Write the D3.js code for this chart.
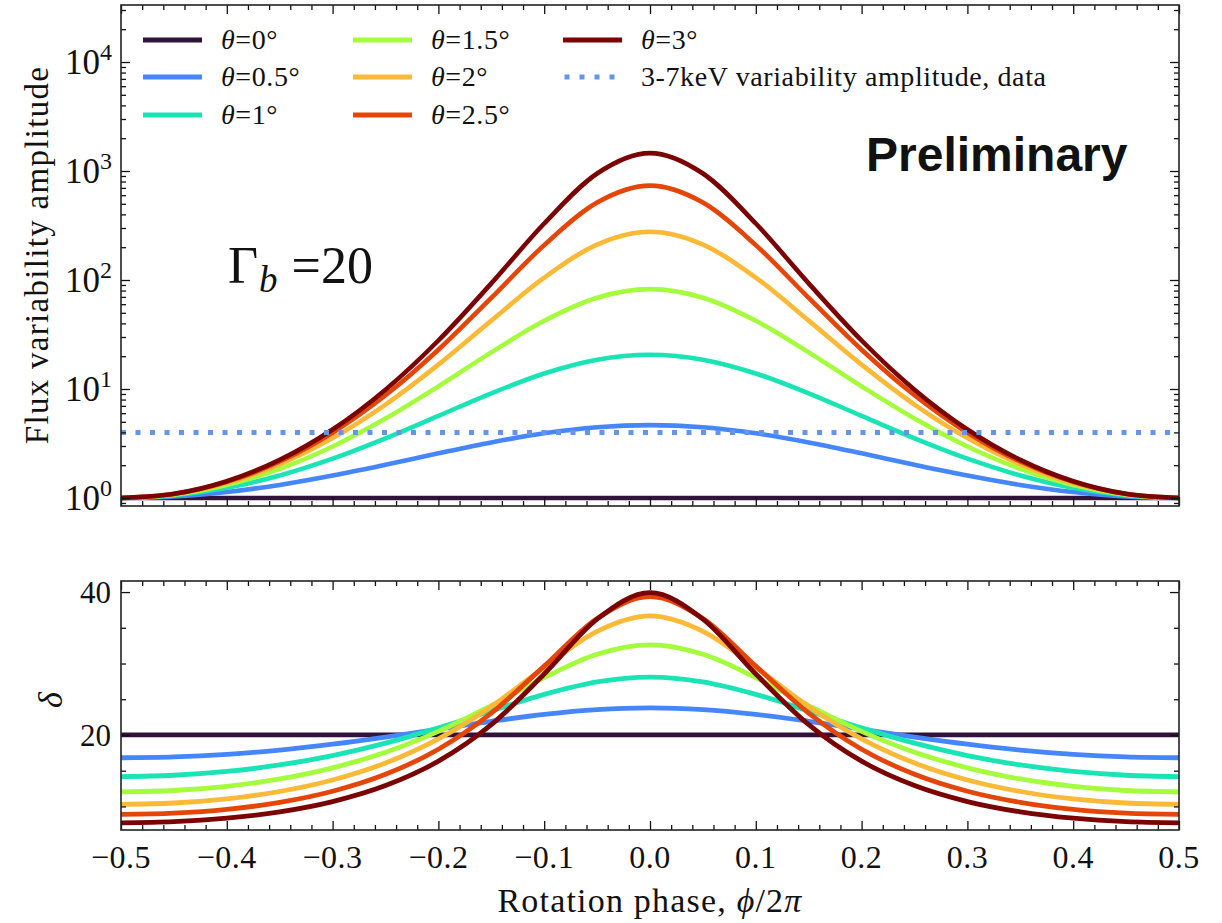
<!DOCTYPE html>
<html>
<head>
<meta charset="utf-8">
<script src="https://cdn.jsdelivr.net/npm/d3@7"></script>
<style>
  body { margin: 0; background: #fff; }
  svg text { font-family: "Liberation Serif", "Tinos", "Times New Roman", "DejaVu Serif", serif; fill: #111; }
</style>
</head>
<body>
<script>
// rotation phase grid (phi / 2pi)
var phase = [-0.5, -0.45, -0.4, -0.35, -0.3, -0.25, -0.2, -0.15, -0.1, -0.05, 0,
             0.05, 0.1, 0.15, 0.2, 0.25, 0.3, 0.35, 0.4, 0.45, 0.5];

var thetaLabels = ["0", "0.5", "1", "1.5", "2", "2.5", "3"];
var colors = ["#30123b", "#4686fb", "#1ae4b6", "#a4fc3c", "#fbb938", "#e4460a", "#7a0403"];

// flux variability amplitude (top panel)
var flux0  = [1, 1, 1, 1, 1, 1, 1, 1, 1, 1, 1, 1, 1, 1, 1, 1, 1, 1, 1, 1, 1];
var flux05 = [1, 1.032, 1.134, 1.318, 1.606, 2.019, 2.572, 3.237, 3.920, 4.453, 4.658,
              4.453, 3.920, 3.237, 2.572, 2.019, 1.606, 1.318, 1.134, 1.032, 1];
var flux1  = [1, 1.055, 1.239, 1.611, 2.296, 3.525, 5.668, 9.133, 13.89, 18.59, 20.65,
              18.59, 13.89, 9.133, 5.668, 3.525, 2.296, 1.611, 1.239, 1.055, 1];
var flux15 = [1, 1.071, 1.317, 1.853, 2.970, 5.356, 10.57, 21.68, 42.22, 68.76, 82.40,
              68.76, 42.22, 21.68, 10.57, 5.356, 2.970, 1.853, 1.317, 1.071, 1];
var flux2  = [1, 1.082, 1.370, 2.035, 3.543, 7.196, 16.74, 42.40, 105.2, 211.6, 276.9,
              211.6, 105.2, 42.40, 16.74, 7.196, 3.543, 2.035, 1.370, 1.082, 1];
var flux25 = [1, 1.089, 1.406, 2.161, 3.974, 8.761, 22.93, 68.54, 208.9, 513.4, 734.0,
              513.4, 208.9, 68.54, 22.93, 8.761, 3.974, 2.161, 1.406, 1.089, 1];
var flux3  = [1, 1.092, 1.426, 2.238, 4.252, 9.859, 27.86, 93.07, 329.7, 948.1, 1460,
              948.1, 329.7, 93.07, 27.86, 9.859, 4.252, 2.238, 1.426, 1.092, 1];

// Doppler factor delta (bottom panel)
var delta0  = [20, 20, 20, 20, 20, 20, 20, 20, 20, 20, 20, 20, 20, 20, 20, 20, 20, 20, 20, 20, 20];
var delta05 = [16.81, 16.93, 17.29, 17.89, 18.71, 19.70, 20.81, 21.91, 22.88, 23.55, 23.79,
               23.55, 22.88, 21.91, 20.81, 19.70, 18.71, 17.89, 17.29, 16.93, 16.81];
var delta1  = [14.18, 14.36, 14.89, 15.80, 17.11, 18.85, 20.99, 23.37, 25.69, 27.44, 28.10,
               27.44, 25.69, 23.37, 20.99, 18.85, 17.11, 15.80, 14.89, 14.36, 14.18];
var delta15 = [12.04, 12.23, 12.82, 13.84, 15.40, 17.59, 20.51, 24.12, 28.03, 31.29, 32.60,
               31.29, 28.03, 24.12, 20.51, 17.59, 15.40, 13.84, 12.82, 12.23, 12.04];
var delta2  = [10.30, 10.48, 11.06, 12.09, 13.70, 16.08, 19.46, 24.00, 29.46, 34.50, 36.66,
               34.50, 29.46, 24.00, 19.46, 16.08, 13.70, 12.09, 11.06, 10.48, 10.30];
var delta25 = [8.88, 9.05, 9.58, 10.56, 12.12, 14.49, 18.00, 23.05, 29.64, 36.31, 39.36,
               36.31, 29.64, 23.05, 18.00, 14.49, 12.12, 10.56, 9.58, 9.05, 8.88];
var delta3  = [7.71, 7.86, 8.35, 9.24, 10.68, 12.92, 16.33, 21.44, 28.53, 36.21, 39.91,
               36.21, 28.53, 21.44, 16.33, 12.92, 10.68, 9.24, 8.35, 7.86, 7.71];

var dataAmplitude = 4;   // 3-7 keV variability amplitude, data

var xTicks = [-0.5, -0.4, -0.3, -0.2, -0.1, 0, 0.1, 0.2, 0.3, 0.4, 0.5];
var fluxTicks = [1, 10, 100, 1000, 10000];
var deltaTicks = [20, 40];

var fluxSeries = [flux0, flux05, flux1, flux15, flux2, flux25, flux3];
var deltaSeries = [delta0, delta05, delta1, delta15, delta2, delta25, delta3];

var W = 1222, H = 923;
var L = 121, R = 1179;
var topT = 5, topB = 506, botT = 581, botB = 830;

var svg = d3.select("body").append("svg").attr("width", W).attr("height", H);

var x = d3.scaleLinear().domain([-0.5, 0.5]).range([L, R]);
var yTop = d3.scaleLog().domain([Math.pow(10, -0.0734), Math.pow(10, 4.523)]).range([topB, topT]);
var yBot = d3.scaleLinear().domain([6.7, 41.55]).range([botB, botT]);

// minor tick values
var xMinor = d3.range(-50, 51, 2).map(function (d) { return d / 100; })
  .filter(function (d) { return xTicks.indexOf(d) < 0; });
var fluxMinor = [];
[0.1, 1, 10, 100, 1000, 10000].forEach(function (dec) {
  for (var k = 2; k <= 9; k++) {
    var v = k * dec;
    if (v >= yTop.domain()[0] && v <= yTop.domain()[1]) fluxMinor.push(v);
  }
});
var deltaMinor = [10, 15, 25, 30, 35];

// clip paths
var defs = svg.append("defs");
defs.append("clipPath").attr("id", "clipTop").append("rect")
  .attr("x", L).attr("y", topT).attr("width", R - L).attr("height", topB - topT);
defs.append("clipPath").attr("id", "clipBot").append("rect")
  .attr("x", L).attr("y", botT).attr("width", R - L).attr("height", botB - botT);

// curves
var lineTop = d3.line()
  .x(function (d, i) { return x(phase[i]); })
  .y(function (d) { return yTop(d); })
  .curve(d3.curveCatmullRom.alpha(0));
var lineBot = d3.line()
  .x(function (d, i) { return x(phase[i]); })
  .y(function (d) { return yBot(d); })
  .curve(d3.curveCatmullRom.alpha(0));

var gTop = svg.append("g").attr("clip-path", "url(#clipTop)");
gTop.selectAll("path.curve").data(fluxSeries).enter().append("path")
  .attr("class", "curve")
  .attr("d", lineTop)
  .attr("fill", "none")
  .attr("stroke", function (d, i) { return colors[i]; })
  .attr("stroke-width", 4.6);

gTop.append("line")
  .attr("x1", L).attr("x2", R)
  .attr("y1", yTop(dataAmplitude)).attr("y2", yTop(dataAmplitude))
  .attr("stroke", "#6495ed")
  .attr("stroke-width", 5)
  .attr("stroke-dasharray", "5 9.5");

var gBot = svg.append("g").attr("clip-path", "url(#clipBot)");
gBot.selectAll("path.curve").data(deltaSeries).enter().append("path")
  .attr("class", "curve")
  .attr("d", lineBot)
  .attr("fill", "none")
  .attr("stroke", function (d, i) { return colors[i]; })
  .attr("stroke-width", 4.8);

// ticks (inward, on all four sides)
function ticks(axis, tx, ty, size) {
  var g = svg.append("g").attr("transform", "translate(" + tx + "," + ty + ")")
    .call(axis.tickSize(-size).tickFormat(""));
  g.select(".domain").remove();
  g.selectAll(".tick line").attr("stroke", "#111").attr("stroke-width", 1.3);
  return g;
}
[[topT, topB, yTop, fluxTicks, fluxMinor], [botT, botB, yBot, deltaTicks, deltaMinor]].forEach(function (p) {
  ticks(d3.axisBottom(x).tickValues(xTicks), 0, p[1], 9);
  ticks(d3.axisBottom(x).tickValues(xMinor), 0, p[1], 5);
  ticks(d3.axisTop(x).tickValues(xTicks), 0, p[0], 9);
  ticks(d3.axisTop(x).tickValues(xMinor), 0, p[0], 5);
  ticks(d3.axisLeft(p[2]).tickValues(p[3]), L, 0, 9);
  ticks(d3.axisLeft(p[2]).tickValues(p[4]), L, 0, 5);
  ticks(d3.axisRight(p[2]).tickValues(p[3]), R, 0, 9);
  ticks(d3.axisRight(p[2]).tickValues(p[4]), R, 0, 5);
  svg.append("rect")
    .attr("x", L).attr("y", p[0]).attr("width", R - L).attr("height", p[1] - p[0])
    .attr("fill", "none").attr("stroke", "#222").attr("stroke-width", 1.6);
});

// tick labels
svg.selectAll("text.xt").data(xTicks).enter().append("text")
  .attr("class", "xt")
  .attr("x", function (d) { return x(d); })
  .attr("y", botB + 38)
  .attr("text-anchor", "middle")
  .attr("font-size", 32)
  .style("letter-spacing", "0.5px")
  .text(function (d) { return d3.format(".1f")(d); });

var ft = svg.selectAll("text.ft").data(fluxTicks).enter().append("text")
  .attr("class", "ft")
  .attr("x", 112)
  .attr("y", function (d) { return yTop(d) + 12; })
  .attr("text-anchor", "end")
  .attr("font-size", 35);
ft.append("tspan").text("10");
ft.append("tspan").attr("font-size", 24).attr("dy", -14)
  .text(function (d) { return Math.round(Math.log10(d)); });

svg.selectAll("text.dt").data(deltaTicks).enter().append("text")
  .attr("class", "dt")
  .attr("x", 111)
  .attr("y", function (d) { return yBot(d) + 11; })
  .attr("text-anchor", "end")
  .attr("font-size", 31)
  .text(function (d) { return d; });

// axis titles
svg.append("text")
  .attr("transform", "translate(48,255) rotate(-90)")
  .attr("text-anchor", "middle")
  .attr("font-size", 33)
  .style("letter-spacing", "1.3px")
  .text("Flux variability amplitude");

svg.append("text")
  .attr("transform", "translate(62,700) rotate(-90)")
  .attr("text-anchor", "middle")
  .attr("font-size", 34)
  .attr("font-style", "italic")
  .text("δ");

var xl = svg.append("text")
  .attr("x", 650).attr("y", 912)
  .attr("text-anchor", "middle")
  .attr("font-size", 34)
  .style("letter-spacing", "1.2px");
xl.append("tspan").text("Rotation phase, ");
xl.append("tspan").attr("font-style", "italic").text("ϕ");
xl.append("tspan").text("/2");
xl.append("tspan").attr("font-style", "italic").text("π");

// annotations
var gam = svg.append("text").attr("x", 228).attr("y", 283).attr("font-size", 52);
gam.append("tspan").text("Γ");
gam.append("tspan").attr("font-style", "italic").attr("font-size", 37).attr("dy", 9).attr("dx", 1).text("b");
gam.append("tspan").attr("dy", -9).attr("dx", 14).text("=20");

svg.append("text")
  .attr("x", 866).attr("y", 171)
  .attr("font-size", 48)
  .attr("font-weight", "bold")
  .style("font-family", "'Liberation Sans', Arial, sans-serif")
  .text("Preliminary");

// legend
var legX = [143, 353, 563];
var legY = [40, 77, 115];
var legendItems = thetaLabels.map(function (t, i) {
  return { label: t, color: colors[i], col: Math.floor(i / 3), row: i % 3, dotted: false };
});
legendItems.push({ label: null, color: "#6495ed", col: 2, row: 1, dotted: true });

var leg = svg.selectAll("g.leg").data(legendItems).enter().append("g")
  .attr("class", "leg")
  .attr("transform", function (d) { return "translate(" + legX[d.col] + "," + legY[d.row] + ")"; });
leg.append("line")
  .attr("x1", 0).attr("x2", 59).attr("y1", 0).attr("y2", 0)
  .attr("stroke", function (d) { return d.color; })
  .attr("stroke-width", function (d) { return d.dotted ? 5 : 4.8; })
  .attr("stroke-dasharray", function (d) { return d.dotted ? "5 10" : null; })
  .attr("stroke-dashoffset", function (d) { return d.dotted ? -1.5 : null; });
var lt = leg.append("text")
  .attr("x", 78).attr("y", 9)
  .attr("font-size", 28)
  .style("letter-spacing", "0.6px");
lt.filter(function (d) { return !d.dotted; }).each(function (d) {
  var t = d3.select(this);
  t.append("tspan").attr("font-style", "italic").text("θ");
  t.append("tspan").text("=" + d.label + "°");
});
lt.filter(function (d) { return d.dotted; })
  .text("3-7keV variability amplitude, data");
</script>
</body>
</html>
